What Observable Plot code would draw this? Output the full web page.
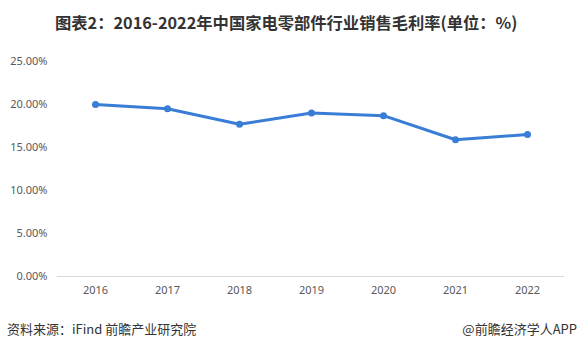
<!DOCTYPE html>
<html>
<head>
<meta charset="utf-8">
<script src="https://cdn.jsdelivr.net/npm/d3@7"></script>
<script src="https://cdn.jsdelivr.net/npm/@observablehq/plot@0.6"></script>
<style>
  html, body { margin: 0; padding: 0; background: #fff; width: 580px; height: 352px; overflow: hidden; }
  #title { height: 40px; line-height: 44px; padding-left: 55px; font-family: "Noto Sans CJK SC", sans-serif; font-weight: bold; font-size: 16.3px; color: #333; white-space: nowrap; }
  #footer { position: absolute; top: 319px; left: 0; width: 580px; font-family: "Noto Sans CJK SC", sans-serif; font-size: 13px; color: #333; }
  #footer .l { position: absolute; left: 7px; }
  #footer .r { position: absolute; right: 3px; }
</style>
</head>
<body>
<div id="title">图表2：2016-2022年中国家电零部件行业销售毛利率(单位：%)</div>
<div id="chart"></div>
<div id="footer"><span class="l">资料来源：iFind 前瞻产业研究院</span><span class="r">@前瞻经济学人APP</span></div>
<script>
const years = ["2016", "2017", "2018", "2019", "2020", "2021", "2022"];
const margins = [20.0, 19.5, 17.7, 19.0, 18.7, 15.9, 16.5];
const yTicks = [0, 5, 10, 15, 20, 25];

const data = years.map((y, i) => ({year: y, value: margins[i]}));

const chart = Plot.plot({
  width: 580,
  height: 270,
  marginTop: 21,
  marginBottom: 34,
  marginLeft: 57,
  marginRight: 16,
  style: {fontFamily: "'Noto Sans', sans-serif", fontSize: "11px", color: "#595959", background: "#fff"},
  x: {type: "point", domain: years, padding: 0.5, label: null, tickSize: 0, tickPadding: 10},
  y: {domain: [0, 25], ticks: yTicks, tickFormat: d => d.toFixed(2) + "%", label: null, tickSize: 0, tickPadding: 10},
  marks: [
    Plot.ruleY([0], {stroke: "#d9d9d9", strokeWidth: 1}),
    Plot.line(data, {x: "year", y: "value", stroke: "#3a7dd6", strokeWidth: 3}),
    Plot.dot(data, {x: "year", y: "value", fill: "#3a7dd6", r: 3.5})
  ]
});
document.getElementById("chart").appendChild(chart);
</script>
</body>
</html>
